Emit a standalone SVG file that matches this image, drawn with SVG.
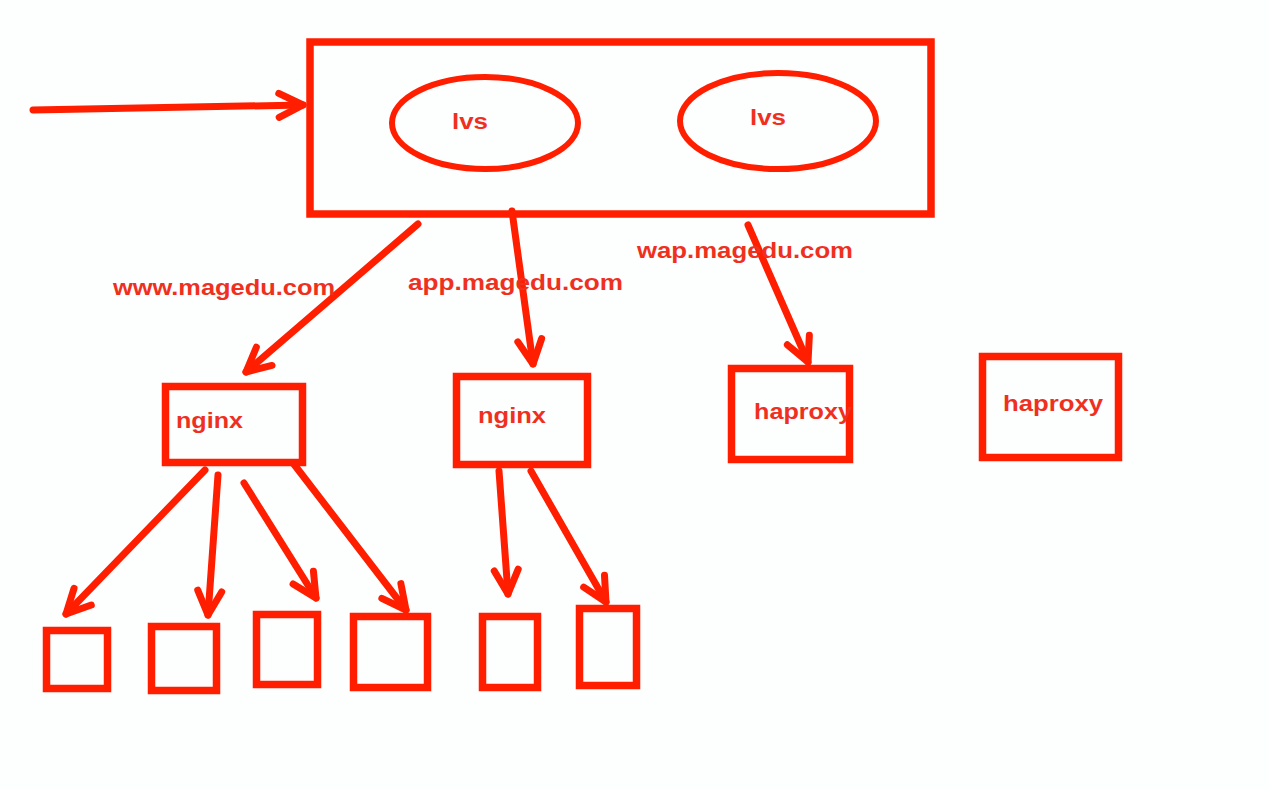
<svg xmlns="http://www.w3.org/2000/svg" width="1269" height="789" viewBox="0 0 1269 789">
<style>
.box{fill:none;stroke:#ff1e00;stroke-width:7.5}
.ell{fill:none;stroke:#ff1e00;stroke-width:6}
.ln{fill:none;stroke:#ff1e00;stroke-width:7;stroke-linecap:round;marker-end:url(#ah)}
.t{font-family:"Liberation Sans",Arial,sans-serif;font-weight:bold;font-size:22.5px;fill:#f0301e}
</style>
<defs>
<marker id="ah" markerUnits="userSpaceOnUse" markerWidth="60" markerHeight="60" viewBox="-30 -30 60 60" refX="0" refY="0" orient="auto" overflow="visible">
<path d="M-24,-12 L0,0 L-24,12" fill="none" stroke="#ff1e00" stroke-width="7" stroke-linecap="round" stroke-linejoin="round"/>
</marker>
</defs>
<rect width="1269" height="789" fill="#fdfefe"/>
<g id="connectors">
<path class="ln" d="M33,110 L303,105"/>
<path class="ln" d="M418,224 L246,372"/>
<path class="ln" d="M512,211 L533,364"/>
<path class="ln" d="M748,225 L808,362"/>
<path class="ln" d="M205,470 L66,614"/>
<path class="ln" d="M218,475 L208,615"/>
<path class="ln" d="M244,483 L316,598"/>
<path class="ln" d="M293,463 L406,610"/>
<path class="ln" d="M499,471 L508,594"/>
<path class="ln" d="M531,471 L606,602"/>
</g>
<g id="lvs-cluster">
<rect class="box" x="310" y="42" width="621" height="172"/>
</g>
<g id="lvs1">
<ellipse class="ell" cx="485" cy="123" rx="93" ry="46"/>
<text class="t" x="452" y="129" textLength="36" lengthAdjust="spacingAndGlyphs">lvs</text>
</g>
<g id="lvs2">
<ellipse class="ell" cx="778" cy="121" rx="98" ry="48"/>
<text class="t" x="750" y="125" textLength="36" lengthAdjust="spacingAndGlyphs">lvs</text>
</g>
<g id="labels">
<text class="t" x="113" y="295" textLength="222" lengthAdjust="spacingAndGlyphs">www.magedu.com</text>
<text class="t" x="408" y="290" textLength="215" lengthAdjust="spacingAndGlyphs">app.magedu.com</text>
<text class="t" x="637" y="258" textLength="216" lengthAdjust="spacingAndGlyphs">wap.magedu.com</text>
</g>
<g id="nginx1">
<rect class="box" x="165.5" y="386.5" width="137" height="76"/>
<text class="t" x="176" y="428" textLength="67" lengthAdjust="spacingAndGlyphs">nginx</text>
</g>
<g id="nginx2">
<rect class="box" x="456.5" y="376.5" width="131" height="88"/>
<text class="t" x="478" y="423" textLength="68" lengthAdjust="spacingAndGlyphs">nginx</text>
</g>
<g id="haproxy1">
<rect class="box" x="731.5" y="368.5" width="118" height="91"/>
<text class="t" x="754" y="419" textLength="98" lengthAdjust="spacingAndGlyphs">haproxy</text>
</g>
<g id="haproxy2">
<rect class="box" x="982.5" y="356.5" width="136" height="101"/>
<text class="t" x="1003" y="411" textLength="100" lengthAdjust="spacingAndGlyphs">haproxy</text>
</g>
<g id="srv1"><rect class="box" x="46.5" y="630.5" width="61" height="58"/></g>
<g id="srv2"><rect class="box" x="151.5" y="626.5" width="65" height="64"/></g>
<g id="srv3"><rect class="box" x="256.5" y="614.5" width="61" height="70"/></g>
<g id="srv4"><rect class="box" x="353.5" y="616.5" width="74" height="71"/></g>
<g id="srv5"><rect class="box" x="482.5" y="616.5" width="55" height="71"/></g>
<g id="srv6"><rect class="box" x="579.5" y="608.5" width="57" height="77"/></g>
</svg>
